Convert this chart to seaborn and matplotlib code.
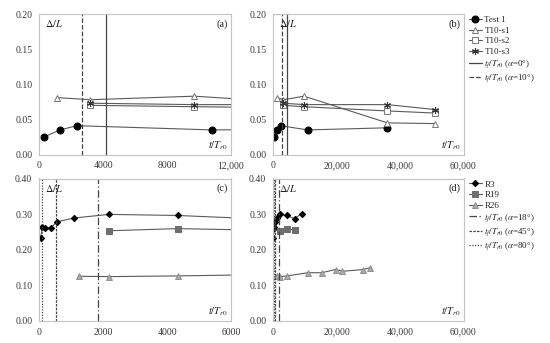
import matplotlib
matplotlib.use('Agg')
import matplotlib.pyplot as plt
import seaborn as sns

# ---- data ----
test1_x = [300, 1300, 2350, 10800, 36000]
test1_y = [0.025, 0.035, 0.041, 0.035, 0.038]
s1_x = [1100, 3200, 9700, 36000, 51000]
s1_y = [0.081, 0.078, 0.083, 0.045, 0.044]
s2_x = [3200, 9700, 36000, 51000]
s2_y = [0.070, 0.068, 0.062, 0.059]
s3_x = [3200, 9700, 36000, 51000]
s3_y = [0.073, 0.071, 0.071, 0.064]
tf_top = [4200, 2700]          # alpha = 0, 10 deg
tf_top_labels = [r'$t_f/T_{r0}$ ($\alpha$=0°)', r'$t_f/T_{r0}$ ($\alpha$=10°)']

r3_x = [40, 100, 190, 370, 545, 1100, 2180, 4330, 6700, 8900]
r3_y = [0.233, 0.264, 0.261, 0.262, 0.278, 0.289, 0.299, 0.296, 0.287, 0.301]
r19_x = [2180, 4330, 6700]
r19_y = [0.253, 0.259, 0.255]
r26_x = [1250, 2180, 4330, 11000, 15300, 19700, 21800, 28400, 30500]
r26_y = [0.125, 0.124, 0.126, 0.135, 0.135, 0.144, 0.139, 0.144, 0.149]
tf_bot = [1850, 523, 95]       # alpha = 18, 45, 80 deg
tf_bot_labels = [r'$t_f/T_{r0}$ ($\alpha$=18°)', r'$t_f/T_{r0}$ ($\alpha$=45°)',
                 r'$t_f/T_{r0}$ ($\alpha$=80°)']

xticks_a = [0, 4000, 8000, 12000]
xticks_b = [0, 20000, 40000, 60000]
xticks_c = [0, 2000, 4000, 6000]
yticks_top = [0.00, 0.05, 0.10, 0.15, 0.20]
yticks_bot = [0.00, 0.10, 0.20, 0.30, 0.40]

sns.set_style('white')
plt.rcParams['font.family'] = ['Liberation Serif', 'DejaVu Serif']
plt.rcParams['mathtext.fontset'] = 'stix'

LINE = '#5a5a5a'
VL = '#444444'

fig = plt.figure(figsize=(5.5, 3.43), dpi=100)
W, H = 550, 343


def rect(l, r, t, b):
    return [l / W, 1 - b / H, (r - l) / W, (b - t) / H]


ax_a = fig.add_axes(rect(39.3, 231, 14, 154.5))
ax_b = fig.add_axes(rect(273.3, 463.5, 14, 154.5))
ax_c = fig.add_axes(rect(39.3, 231, 178.5, 320.7))
ax_d = fig.add_axes(rect(273.3, 463.5, 178.5, 320.7))

top_series = [
    ('Test 1', test1_x, test1_y, dict(marker='o', markersize=5, markerfacecolor='black',
                                       markeredgecolor='black')),
    ('T10-s1', s1_x, s1_y, dict(marker='^', markersize=4.5, markerfacecolor='white',
                                 markeredgecolor='#777777', markeredgewidth=0.7)),
    ('T10-s2', s2_x, s2_y, dict(marker='s', markersize=4, markerfacecolor='white',
                                 markeredgecolor='#777777', markeredgewidth=0.7)),
    ('T10-s3', s3_x, s3_y, dict(marker=(6, 2, 0), markersize=5, markerfacecolor='#333333',
                                 markeredgecolor='#333333', markeredgewidth=0.8)),
]
bot_series = [
    ('R3', r3_x, r3_y, dict(marker='D', markersize=3.2, markerfacecolor='black',
                             markeredgecolor='black')),
    ('R19', r19_x, r19_y, dict(marker='s', markersize=4.5, markerfacecolor='#6e6e6e',
                                markeredgecolor='#6e6e6e')),
    ('R26', r26_x, r26_y, dict(marker='^', markersize=5, markerfacecolor='#aaaaaa',
                                markeredgecolor='#888888', markeredgewidth=0.6)),
]
top_styles = ['-', '--']
bot_styles = [(0, (6, 2, 1, 2)), (0, (2, 1)), (0, (1, 1.2))]


def fmt(v):
    return f'{v:,}' if v >= 10000 else str(v)


def style_axis(ax, xt, xlim, yt, letter):
    ax.set_xlim(xlim)
    ax.set_ylim(yt[0], yt[-1])
    ax.set_xticks(xt)
    ax.set_xticklabels([fmt(v) for v in xt])
    ax.set_yticks(yt)
    ax.set_yticklabels([f'{v:.2f}' for v in yt])
    ax.tick_params(labelsize=7, length=0, pad=5, colors='#3a3a3a')
    for sp in ax.spines.values():
        sp.set_color('#c4c4c4')
        sp.set_linewidth(0.8)
    ax.set_xlabel('')
    ax.set_ylabel('')
    ax.text(0.03, 0.93, r'$\Delta/L$', transform=ax.transAxes, fontsize=7.5,
            ha='left', va='center', color='#222222')
    ax.text(0.985, 0.065, r'$t/T_{r0}$', transform=ax.transAxes, fontsize=7.5,
            ha='right', va='center', color='#222222')
    ax.text(0.985, 0.93, letter, transform=ax.transAxes, fontsize=7.5,
            ha='right', va='center', color='#222222')


for ax, xt, letter in [(ax_a, xticks_a, '(a)'), (ax_b, xticks_b, '(b)')]:
    for name, xs, ys, kw in top_series:
        sns.lineplot(x=xs, y=ys, ax=ax, color=LINE, linewidth=0.8, sort=False,
                     estimator=None, label=name, legend=False, **kw)
    for xv, ls, lab in zip(tf_top, top_styles, tf_top_labels):
        ax.axvline(xv, color=VL, linestyle=ls, linewidth=0.9, label=lab)
    style_axis(ax, xt, (xt[0], xt[-1]), yticks_top, letter)

for ax, xt, letter in [(ax_c, xticks_c, '(c)'), (ax_d, xticks_b, '(d)')]:
    for name, xs, ys, kw in bot_series:
        sns.lineplot(x=xs, y=ys, ax=ax, color=LINE, linewidth=0.8, sort=False,
                     estimator=None, label=name, legend=False, **kw)
    for xv, ls, lab in zip(tf_bot, bot_styles, tf_bot_labels):
        ax.axvline(xv, color=VL, linestyle=ls, linewidth=0.9, label=lab)
    style_axis(ax, xt, (xt[0], xt[-1]), yticks_bot, letter)

for ax in [ax_b, ax_d]:
    h, l = ax.get_legend_handles_labels()
    ax.legend(h, l, loc='upper left', bbox_to_anchor=(1.02, 1.0), frameon=False,
              fontsize=6.5, handlelength=1.4, handletextpad=0.3, labelspacing=0.25,
              borderaxespad=0, borderpad=0.2)

fig.savefig('out.png', dpi=100)
